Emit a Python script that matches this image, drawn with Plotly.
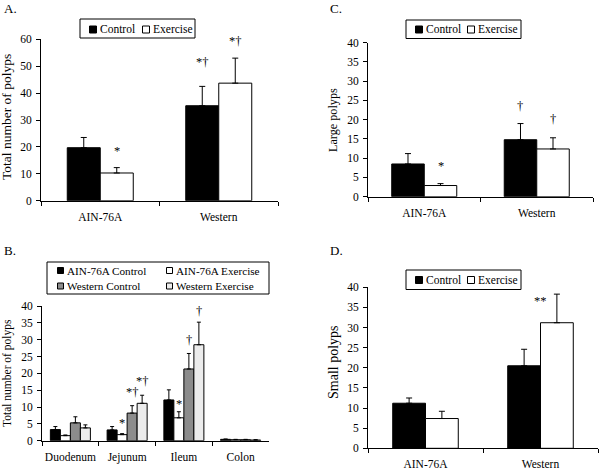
import plotly.graph_objects as go

FONT = "Liberation Serif"

# ---------- Data ----------
diet_groups = ["AIN-76A", "Western"]
legend_names = ["Control", "Exercise"]

# Panel A: total number of polyps
total_control = [19.7, 35.3]
total_control_err = [3.8, 7.2]
total_exercise = [10.3, 43.7]
total_exercise_err = [2.0, 9.3]

# Panel C: large polyps
large_control = [8.5, 14.8]
large_control_err = [2.7, 4.2]
large_exercise = [2.9, 12.4]
large_exercise_err = [0.5, 2.9]

# Panel D: small polyps
small_control = [11.2, 20.5]
small_control_err = [1.3, 4.1]
small_exercise = [7.4, 31.2]
small_exercise_err = [1.8, 7.1]

# Panel B: by intestinal section
sections = ["Duodenum", "Jejunum", "Ileum", "Colon"]
b_series = ["AIN-76A Control", "AIN-76A Exercise", "Western Control", "Western Exercise"]
b_values = {
    "AIN-76A Control": [3.3, 3.2, 12.1, 0.4],
    "AIN-76A Exercise": [1.5, 1.8, 6.8, 0.3],
    "Western Control": [5.3, 8.2, 21.3, 0.3],
    "Western Exercise": [3.8, 11.1, 28.5, 0.2],
}
b_errors = {
    "AIN-76A Control": [0.9, 1.0, 3.0, 0.1],
    "AIN-76A Exercise": [0.2, 0.3, 1.8, 0.1],
    "Western Control": [1.8, 2.2, 4.6, 0.1],
    "Western Exercise": [0.9, 2.4, 6.7, 0.1],
}
b_colors = ["#000000", "#ffffff", "#8c8c8c", "#ececec"]
ab_colors = ["#000000", "#ffffff"]

# significance marks: (category index, bar index, y value, text)
marks_A = [(0, 1, 18.5, "*"), (1, 0, 51.5, "*†"), (1, 1, 59.5, "*†")]
marks_C = [(0, 1, 8.0, "*"), (1, 0, 23.6, "†"), (1, 1, 20.2, "†")]
marks_D = [(1, 0.5, 36.5, "**")]
marks_B = [(1, 1, 5.4, "*"), (1, 2, 14.4, "*†"), (1, 3, 17.8, "*†"),
           (2, 1, 11.0, "*"), (2, 2, 30.0, "†"), (2, 3, 38.6, "†")]

W, H = 600, 470


def xdom(a, b):
    return [a / W, b / W]


def ydom(top_px, bottom_px):
    return [1 - bottom_px / H, 1 - top_px / H]


fig = go.Figure()

panels = {
    # key: (xaxis, yaxis, xdomain, ydomain, bargap, ymax, dtick, ytitle, title size, title x px, title y px)
    "A": ("x", "y", xdom(41, 278), ydom(39.3, 200.7), 0.443, 60, 10, "Total number of polyps", 13.5, 7, 117),
    "C": ("x2", "y2", xdom(368, 593), ydom(42.7, 196.7), 0.422, 40, 5, "Large polyps", 12.2, 333, 120),
    "B": ("x3", "y3", xdom(42, 269), ydom(306, 440.7), 0.295, 40, 5, "Total number of polyps", 11.5, 7, 373),
    "D": ("x4", "y4", xdom(368, 598), ydom(287.3, 448.3), 0.43, 40, 5, "Small polyps", 14.0, 333, 362),
}

two_group_data = {
    "A": (total_control, total_control_err, total_exercise, total_exercise_err),
    "C": (large_control, large_control_err, large_exercise, large_exercise_err),
    "D": (small_control, small_control_err, small_exercise, small_exercise_err),
}

for key in ["A", "C", "D"]:
    xa, ya = panels[key][0], panels[key][1]
    bg = panels[key][4]
    w = (1 - bg) / 2
    c, ce, e, ee = two_group_data[key]
    for idx, (name, vals, errs) in enumerate([(legend_names[0], c, ce), (legend_names[1], e, ee)]):
        fig.add_trace(go.Bar(
            x=diet_groups, y=vals, name=name, xaxis=xa, yaxis=ya,
            width=w, offset=-(1 - bg) / 2 + idx * w,
            marker=dict(color=ab_colors[idx], line=dict(color="#000000", width=1)),
            error_y=dict(type="data", array=errs, arrayminus=[0] * len(errs), symmetric=False,
                         color="#000000", thickness=1, width=3),
            showlegend=False,
        ))

bgB = panels["B"][4]
wB = (1 - bgB) / 4
for i, s in enumerate(b_series):
    fig.add_trace(go.Bar(
        x=sections, y=b_values[s], name=s, xaxis="x3", yaxis="y3",
        width=wB, offset=-(1 - bgB) / 2 + i * wB,
        marker=dict(color=b_colors[i], line=dict(color="#000000", width=1)),
        error_y=dict(type="data", array=b_errors[s], arrayminus=[0] * 4, symmetric=False,
                     color="#000000", thickness=1, width=2),
        showlegend=False,
    ))

layout = dict(
    template="none",
    width=W, height=H, margin=dict(l=0, r=0, t=0, b=0, autoexpand=False),
    paper_bgcolor="white", plot_bgcolor="white",
    font=dict(family=FONT, size=11, color="#000000"),
    barmode="group", showlegend=False,
)

axis_x = {"x": "xaxis", "x2": "xaxis2", "x3": "xaxis3", "x4": "xaxis4"}
axis_y = {"y": "yaxis", "y2": "yaxis2", "y3": "yaxis3", "y4": "yaxis4"}

for key, (xa, ya, xd, yd, bg, ymax, dt, ytitle, tsize, tx, ty) in panels.items():
    layout[axis_x[xa]] = dict(
        domain=xd, anchor=ya, type="category", showline=True, linecolor="#000000", linewidth=1,
        ticks="outside", tickson="boundaries", ticklen=4, tickcolor="#000000", tickwidth=1,
        tickangle=0, ticklabelstandoff=5, automargin=False,
        tickfont=dict(family=FONT, size=11.5, color="#000000"), showgrid=False, zeroline=False,
        fixedrange=True,
    )
    layout[axis_y[ya]] = dict(
        domain=yd, anchor=xa, range=[0, ymax], dtick=dt, tick0=0, showline=True, linecolor="#000000",
        linewidth=1, ticks="outside", ticklen=4, tickcolor="#000000", tickwidth=1, showgrid=False,
        zeroline=False, automargin=False, ticklabelstandoff=2,
        tickfont=dict(family=FONT, size=11.5, color="#000000"),
        fixedrange=True,
    )

fig.update_layout(**layout)

# y-axis titles
for key, p in panels.items():
    fig.add_annotation(x=p[9] / W, y=1 - p[10] / H, xref="paper", yref="paper", text=p[7],
                       textangle=-90, showarrow=False, xanchor="center", yanchor="middle",
                       font=dict(family=FONT, size=p[8], color="#000000"))


# ---------- legends (drawn as boxes + text) ----------
def legend_box(x0, x1, y0, y1):
    fig.add_shape(type="rect", xref="paper", yref="paper", x0=x0 / W, x1=x1 / W,
                  y0=1 - y1 / H, y1=1 - y0 / H, line=dict(color="#000000", width=1),
                  fillcolor="white", layer="above")


def legend_item(sx, sy, label, color, size=7, fsize=11.5):
    fig.add_shape(type="rect", xref="paper", yref="paper", x0=sx / W, x1=(sx + size) / W,
                  y0=1 - (sy + size / 2) / H, y1=1 - (sy - size / 2) / H,
                  line=dict(color="#000000", width=1), fillcolor=color, layer="above")
    fig.add_annotation(x=(sx + size + 1) / W, y=1 - sy / H, xref="paper", yref="paper", text=label,
                       showarrow=False, xanchor="left", yanchor="middle",
                       font=dict(family=FONT, size=fsize, color="#000000"))


# A
legend_box(80, 195, 19, 38)
legend_item(89.5, 29.5, legend_names[0], ab_colors[0])
legend_item(142.5, 29.5, legend_names[1], ab_colors[1])
# C
legend_box(406, 521, 20, 38.5)
legend_item(415.5, 29.5, legend_names[0], ab_colors[0])
legend_item(467.5, 29.5, legend_names[1], ab_colors[1])
# D
legend_box(406, 521, 270, 289.5)
legend_item(415.5, 280, legend_names[0], ab_colors[0])
legend_item(467.5, 280, legend_names[1], ab_colors[1])
# B
legend_box(47, 269, 262, 294)
legend_item(57.5, 270.5, b_series[0], b_colors[0], 6, 11.2)
legend_item(166.5, 270.5, b_series[1], b_colors[1], 6, 11.2)
legend_item(57.5, 286, b_series[2], b_colors[2], 6, 11.2)
legend_item(166.5, 286, b_series[3], b_colors[3], 6, 11.2)


# significance annotations (x given in category serial units)
def add_marks(marks, key, n):
    xa, ya = panels[key][0], panels[key][1]
    bg = panels[key][4]
    w = (1 - bg) / n
    for cat, bar, yv, txt in marks:
        xpos = cat - (1 - bg) / 2 + (bar + 0.5) * w
        fig.add_annotation(x=xpos, y=yv, xref=xa, yref=ya, text=txt, showarrow=False,
                           font=dict(family=FONT, size=12.5, color="#000000"), yanchor="middle")


add_marks(marks_A, "A", 2)
add_marks(marks_C, "C", 2)
add_marks(marks_D, "D", 2)
add_marks(marks_B, "B", 4)

# panel labels
for txt, x, y in [("A.", 2, 8), ("C.", 328, 8), ("B.", 2, 250), ("D.", 328, 250)]:
    fig.add_annotation(x=x / W, y=1 - y / H, xref="paper", yref="paper", text=txt, showarrow=False,
                       xanchor="left", yanchor="middle", font=dict(family=FONT, size=13, color="#000000"))

fig.write_html("out.html", config={"displayModeBar": False},
               post_script="document.body.style.margin='0px';")
